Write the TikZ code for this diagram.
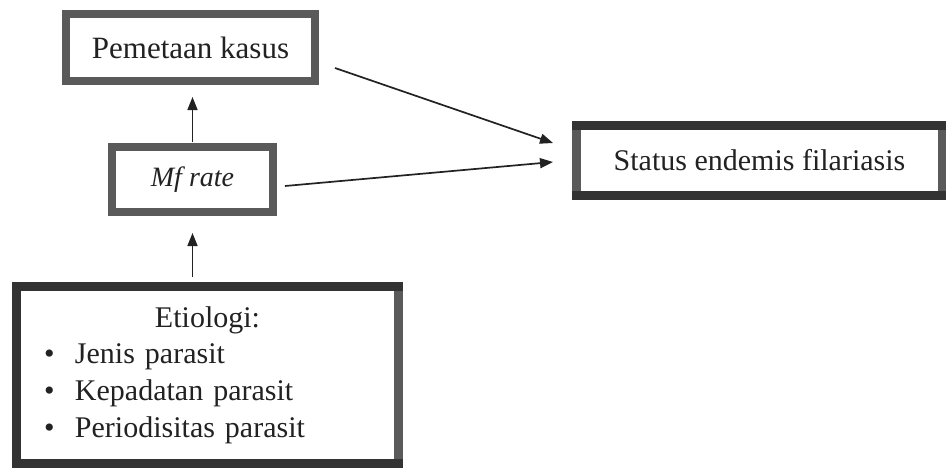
\documentclass[tikz,border=0pt]{standalone}
\usepackage{fontspec}
\setmainfont{Liberation Serif}
\usetikzlibrary{arrows.meta,calc}
\definecolor{texgray}{HTML}{5A5A5A}
\definecolor{darkb}{HTML}{333333}
\definecolor{inkc}{HTML}{222222}
\newcommand{\mybul}{\makebox[31pt][l]{\textbullet}}
\tikzset{
  boxg/.style={draw=texgray, line width=8pt, outer sep=0pt, inner sep=0pt, text=inkc, fill=white},
  darkedge/.style={draw=darkb, line width=9pt, line cap=rect, line join=miter},
  arr/.style={-{Triangle[length=13pt,width=10pt]}, line width=1.7pt, draw=inkc},
}
\begin{document}
\begin{tikzpicture}[x=1pt,y=-1pt]
\useasboundingbox (0,0) rectangle (946,469);
\fill[white] (0,0) rectangle (946,469);

\node[boxg, minimum width=249pt, minimum height=67pt,
      font=\fontsize{31}{36}\selectfont] (pem) at (190.5,47.5) {Pemetaan kasus};
\node[boxg, minimum width=161pt, minimum height=65pt,
      font=\fontsize{28}{32}\selectfont\itshape] (mf) at (192.5,179.5) {Mf rate};
\node[boxg, line width=9pt, minimum width=366pt, minimum height=70pt,
      font=\fontsize{30}{36}\selectfont] (stat) at (759.5,160.5) {Status endemis filariasis};
\draw[darkedge] (stat.north west) -- (stat.north east);
\draw[darkedge] (stat.south west) -- (stat.south east);

\node[boxg, line width=9pt, minimum width=382pt, minimum height=177pt,
      text width=327pt, align=left,
      font=\fontsize{30}{36.7}\selectfont] (eti) at (207.5,375)
  {\makebox[327pt][c]{Etiologi:}\\
   \mybul Jenis parasit\\
   \mybul Kepadatan parasit\\
   \mybul Periodisitas parasit};
\draw[darkedge] (eti.south east) -- (eti.south west) -- (eti.north west) -- (eti.north east);

\draw[arr, shorten <=5pt, shorten >=16pt] (mf.north) -- (mf.north |- pem.south);
\draw[arr, shorten <=9.5pt, shorten >=21pt] (mf.south |- eti.north) -- (mf.south);
\draw[arr] ($(pem.east)+(20,20.5)$) -- ($(stat.west)+(-23.5,-17.5)$);
\draw[arr] ($(mf.east)+(12,6.5)$) -- ($(stat.west)+(-23.5,1.5)$);
\end{tikzpicture}
\end{document}
